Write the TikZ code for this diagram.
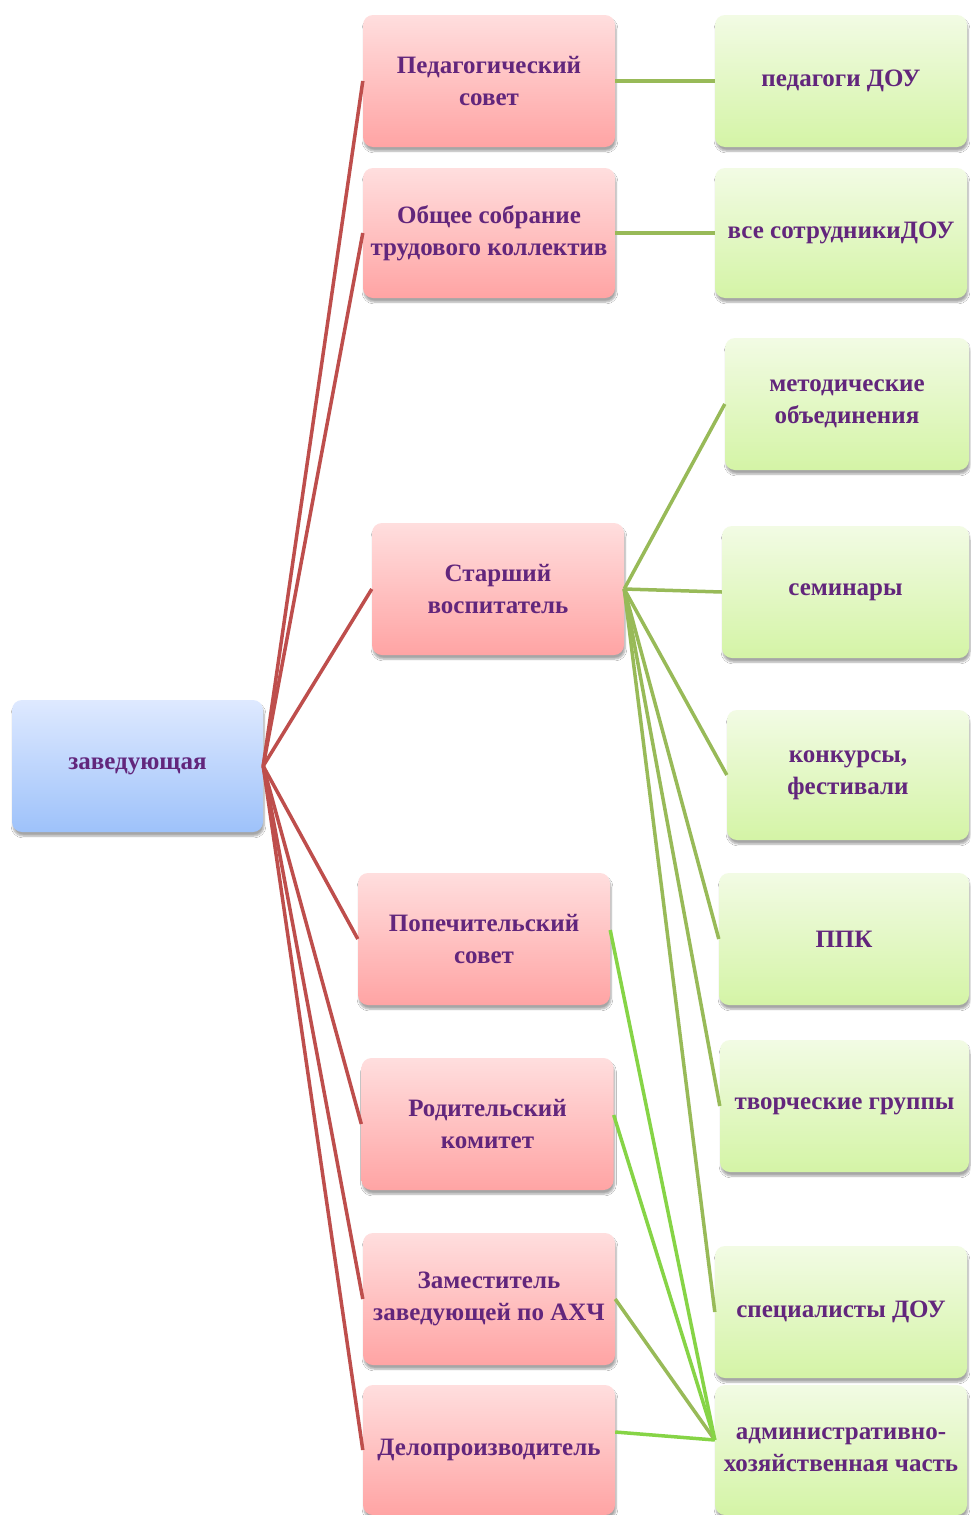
\documentclass[tikz,border=0pt]{standalone}
\usepackage{fontspec}
\setmainfont{Liberation Serif}
\usetikzlibrary{shadows.blur}
\definecolor{txtpurple}{RGB}{98,38,124}
\definecolor{linkred}{RGB}{190,78,76}
\definecolor{linkolive}{RGB}{152,186,88}
\definecolor{linklime}{RGB}{134,212,70}
\definecolor{headtop}{RGB}{222,233,255}
\definecolor{headbot}{RGB}{158,194,250}
\definecolor{redtop}{RGB}{255,222,222}
\definecolor{redbot}{RGB}{255,164,164}
\definecolor{greentop}{RGB}{242,251,228}
\definecolor{greenbot}{RGB}{212,244,166}

\tikzset{
  box/.style={rounded corners=10pt, minimum width=252pt, minimum height=132pt,
    inner sep=0pt, align=center, text=txtpurple,
    font=\fontsize{25}{32}\selectfont\bfseries,
    blur shadow={shadow xshift=1pt, shadow yshift=-4pt, shadow blur steps=6, shadow opacity=35}},
  headbox/.style={box, top color=headtop, bottom color=headbot},
  redbox/.style={box, top color=redtop, bottom color=redbot},
  greenbox/.style={box, top color=greentop, bottom color=greenbot},
  redlink/.style={draw=linkred, line width=3.5pt},
  olivelink/.style={draw=linkolive, line width=3.5pt},
  limelink/.style={draw=linklime, line width=3.5pt}
}

\begin{document}
\begin{tikzpicture}[x=1pt, y=-1pt]
  \fill[white] (0,0) rectangle (970,1515);
  \useasboundingbox (0,0) rectangle (970,1515);

  % head
  \node[headbox, minimum width=251pt] (zav) at (137.5,766) {заведующая};

  % middle column
  \node[redbox] (ped)  at (489,81)    {Педагогический\\совет};
  \node[redbox, minimum height=130pt] (obsh) at (489,233) {Общее собрание\\трудового коллектив};
  \node[redbox] (star) at (498,589)   {Старший\\воспитатель};
  \node[redbox] (pop)  at (484,939)   {Попечительский\\совет};
  \node[redbox] (rod)  at (487.5,1124) {Родительский\\комитет};
  \node[redbox] (zam)  at (489,1299)  {Заместитель\\заведующей по АХЧ};
  \node[redbox, minimum height=130pt] (delo) at (489,1450) {Делопроизводитель};

  % right column
  \node[greenbox] (pdou) at (841,81)   {педагоги ДОУ};
  \node[greenbox, minimum height=130pt] (vse) at (841,233) {все сотрудникиДОУ};
  \node[greenbox, minimum width=244pt] (met)  at (847,404)    {методические\\объединения};
  \node[greenbox, minimum width=247pt] (sem)  at (845.5,592)  {семинары};
  \node[greenbox, minimum width=242pt, minimum height=130pt] (konk) at (848,775) {конкурсы,\\фестивали};
  \node[greenbox, minimum width=250pt] (ppk)  at (844,939)    {ППК};
  \node[greenbox, minimum width=249pt] (tvor) at (844.5,1106) {творческие группы};
  \node[greenbox] (spec) at (841,1312) {специалисты ДОУ};
  \node[greenbox, minimum height=130pt] (adm) at (841,1450) {административно-\\хозяйственная часть};

  % links from head
  \path[redlink]
    (zav.east) edge (ped.west)
               edge (obsh.west)
               edge (star.west)
               edge (pop.west)
               edge (rod.west)
               edge (zam.west)
               edge (delo.west);

  % links to the right column
  \path[olivelink]
    (ped.east)  edge (pdou.west)
    (obsh.east) edge (vse.west)
    (star.east) edge (met.west)
                edge (sem.west)
                edge (konk.west)
                edge (ppk.west)
                edge (tvor.west)
                edge (spec.west)
    (zam.east)  edge ([yshift=10pt]adm.west);
  \path[limelink]
    ([yshift=9pt]pop.east)   edge ([yshift=10pt]adm.west)
    ([yshift=9pt]rod.east)   edge ([yshift=10pt]adm.west)
    ([yshift=18pt]delo.east) edge ([yshift=10pt]adm.west);
\end{tikzpicture}
\end{document}
